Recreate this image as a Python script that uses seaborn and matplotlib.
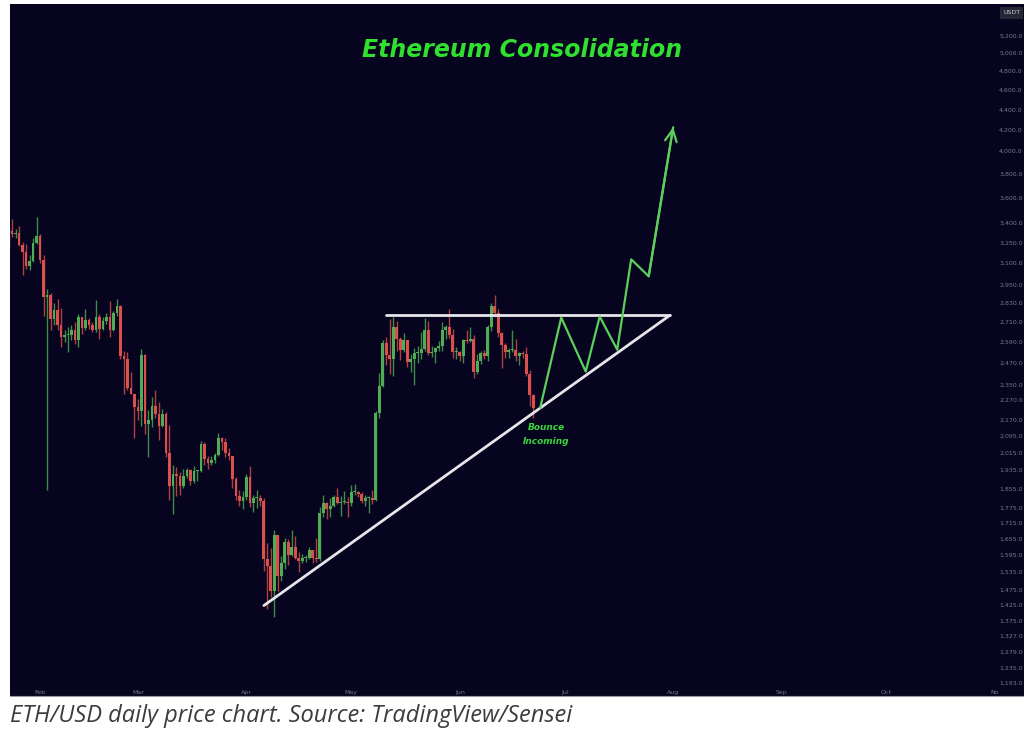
import numpy as np
import pandas as pd
import matplotlib
matplotlib.use("Agg")
import matplotlib.pyplot as plt
import matplotlib.dates as mdates
from matplotlib.ticker import FixedLocator, FuncFormatter, NullLocator
from matplotlib.patches import Rectangle
from matplotlib.lines import Line2D
import seaborn as sns

# ---------------- data ----------------
start_date = "2025-01-23"
first_open = 3330

closes = [
    3338, 3310, 3318, 3232, 3181, 3077, 3114, 3249, 3300,
    3125, 2870, 2880, 2732, 2785, 2690, 2620, 2630, 2630, 2660, 2600, 2740, 2675, 2725,
    2690, 2660, 2745, 2670, 2720, 2740, 2660, 2765, 2815, 2510, 2495, 2335, 2300, 2235,
    2215, 2515, 2150, 2170, 2240, 2200, 2140, 2200, 2010, 1865, 1920, 1910, 1865, 1910,
    1935, 1890, 1930, 1930, 2055, 1985, 1965, 1980, 2005, 2080, 2065, 2010, 2000, 1895,
    1825, 1805, 1820,
    1905, 1795, 1815, 1815, 1805, 1580, 1555, 1470, 1670, 1520, 1565, 1645, 1595, 1625,
    1585, 1575, 1585, 1585, 1615, 1585, 1580, 1755, 1795, 1770, 1785, 1820, 1795, 1800,
    1800, 1795,
    1840, 1840, 1835, 1805, 1815, 1815, 1810, 2205, 2345, 2585, 2515, 2490, 2680, 2610,
    2545, 2600, 2475, 2490, 2525, 2525, 2550, 2665, 2525, 2530, 2555, 2570, 2660, 2680,
    2630, 2530, 2530,
    2510, 2605, 2595, 2610, 2420, 2480, 2525, 2510, 2680, 2810, 2770, 2645, 2575, 2530,
    2545, 2545, 2510, 2525, 2520, 2410, 2295, 2230,
]
highs = [
    3360, 3425, 3350, 3370, 3250, 3240, 3160, 3285, 3440,
    3310, 3160, 2925, 2895, 2830, 2855, 2800, 2665, 2680, 2690, 2710, 2760, 2740, 2790,
    2735, 2710, 2850, 2760, 2745, 2770, 2845, 2780, 2855, 2820, 2540, 2530, 2420, 2300,
    2275, 2550, 2520, 2220, 2285, 2320, 2260, 2225, 2210, 2145, 1960, 1950, 1925, 1940,
    1945, 1940, 1955, 1935, 2070, 2065, 2000, 2000, 2010, 2105, 2085, 2080, 2035, 2000,
    1905, 1850, 1845,
    1920, 1955, 1830, 1850, 1830, 1815, 1640, 1620, 1690, 1670, 1590, 1660, 1655, 1690,
    1665, 1605, 1600, 1595, 1625, 1615, 1660, 1780, 1830, 1800, 1815, 1830, 1860, 1825,
    1845, 1820,
    1870, 1875, 1845, 1840, 1830, 1825, 1850, 2215, 2415, 2600, 2620, 2730, 2740, 2720,
    2620, 2645, 2605, 2520, 2555, 2570, 2650, 2735, 2715, 2570, 2560, 2595, 2710, 2695,
    2790, 2670, 2560,
    2540, 2610, 2660, 2680, 2630, 2520, 2540, 2545, 2690, 2830, 2880, 2790, 2650, 2585,
    2555, 2660, 2610, 2530, 2540, 2560, 2430, 2300,
]
lows = [
    3200, 3290, 3280, 3225, 3020, 3060, 3050, 3110, 3240,
    3100, 2750, 1850, 2660, 2690, 2660, 2560, 2590, 2530, 2600, 2580, 2560, 2640, 2660,
    2670, 2650, 2650, 2610, 2660, 2700, 2620, 2655, 2750, 2490, 2300, 2320, 2300, 2080,
    2170, 2140, 2100, 1995, 2135, 2180, 2075, 2135, 1995, 1810, 1750, 1825, 1830, 1860,
    1900, 1870, 1880, 1890, 1925, 1960, 1940, 1960, 1965, 2000, 2025, 1995, 1980, 1860,
    1810, 1785, 1770,
    1810, 1780, 1760, 1775, 1785, 1540, 1410, 1450, 1385, 1470, 1505, 1545, 1560, 1590,
    1580, 1535, 1565, 1570, 1580, 1565, 1570, 1575, 1740, 1730, 1740, 1780, 1790, 1745,
    1790, 1740,
    1785, 1830, 1820, 1795, 1785, 1755, 1790, 1805, 2180, 2340, 2460, 2410, 2400, 2540,
    2485, 2530, 2450, 2420, 2350, 2470, 2490, 2540, 2515, 2505, 2470, 2540, 2540, 2610,
    2615, 2500, 2490,
    2480, 2470, 2585, 2590, 2385, 2410, 2465, 2490, 2480, 2655, 2740, 2620, 2440, 2500,
    2500, 2535, 2480, 2460, 2500, 2400, 2240, 2180,
]

# triangle (resistance / support) and projected path
resistance_dates = ["2025-05-11", "2025-07-31"]
resistance_prices = [2755, 2755]
support_dates = ["2025-04-06", "2025-07-31"]
support_prices = [1422, 2752]
path_dates = ["2025-06-24", "2025-06-30", "2025-07-07", "2025-07-11",
              "2025-07-16", "2025-07-20", "2025-07-25", "2025-08-01"]
path_prices = [2231, 2739, 2422, 2745, 2546, 3127, 3009, 4224]

price_ticks = [5200, 5000, 4800, 4600, 4400, 4200, 4000, 3800, 3600, 3400,
               3250, 3100, 2950, 2830, 2710, 2590, 2470, 2350, 2270, 2170,
               2095, 2015, 1935, 1855, 1775, 1715, 1655, 1595, 1535, 1475,
               1425, 1375, 1327, 1279, 1235, 1193]

# ---------------- frame ----------------
dates = pd.date_range(start_date, periods=len(closes), freq="D")
opens = [first_open] + closes[:-1]
df = pd.DataFrame({"date": dates, "open": opens, "close": closes,
                   "high": highs, "low": lows})
df["x"] = mdates.date2num(df["date"])
df["up"] = df["close"] >= df["open"]

BG = "#06041e"
UP = "#4fae55"
DN = "#d9504d"
TXT = "#7a7a8a"
W, H = 1024, 736

sns.set_theme(style="dark", rc={"axes.facecolor": BG, "figure.facecolor": "white",
                                 "axes.grid": False})
plt.rcParams["font.family"] = ["DejaVu Sans"]

fig = plt.figure(figsize=(W / 100, H / 100), dpi=100)

# dark panel (behind everything)
fig.patches.append(Rectangle((10 / W, 1 - 696 / H), (W - 10) / W, (696 - 4) / H,
                             transform=fig.transFigure, facecolor=BG,
                             edgecolor="none", zorder=-10))
fig.lines.append(Line2D([10 / W, 1], [1 - 696 / H, 1 - 696 / H],
                        transform=fig.transFigure, color="#9a9aa6", lw=0.8, zorder=-5))

ax = fig.add_axes([10 / W, 1 - 688 / H, 985 / W, 684 / H])
ax.set_zorder(1)
ax.set_facecolor(BG)
for s in ax.spines.values():
    s.set_visible(False)

# candles
for up, col in [(True, UP), (False, DN)]:
    d = df[df["up"] == up]
    ax.vlines(d["x"], d["low"], d["high"], color=col, lw=1.0, alpha=0.8, zorder=2)
    body_lo = np.minimum(d["open"], d["close"])
    body_h = np.maximum(np.abs(d["close"] - d["open"]), d["close"] * 0.003)
    ax.bar(d["x"], body_h, bottom=body_lo, width=0.8, color=col,
           edgecolor="none", zorder=3)

# triangle lines
sns.lineplot(x=mdates.date2num(pd.to_datetime(resistance_dates)), y=resistance_prices,
             ax=ax, color="#e6e6ea", lw=2.0, zorder=4)
sns.lineplot(x=mdates.date2num(pd.to_datetime(support_dates)), y=support_prices,
             ax=ax, color="#e6e6ea", lw=2.0, zorder=4)

# projection path
px = mdates.date2num(pd.to_datetime(path_dates))
sns.lineplot(x=px, y=path_prices, ax=ax, color="#5ccf5c", lw=1.6, sort=False,
             estimator=None, zorder=5)
ax.annotate("", xy=(px[-1], path_prices[-1]), xytext=(px[-2], path_prices[-2]),
            arrowprops=dict(arrowstyle="->,head_length=0.7,head_width=0.35",
                            color="#5ccf5c", lw=1.6, shrinkA=0, shrinkB=0),
            zorder=5)

# scales
ax.set_yscale("log")
ax.set_ylim(1178.6, 5592)
ax.set_xlim(mdates.date2num(pd.Timestamp("2025-01-23")) + 0.42,
            mdates.date2num(pd.Timestamp("2025-11-01")))
ax.yaxis.set_major_locator(FixedLocator(price_ticks))
ax.yaxis.set_minor_locator(NullLocator())
ax.yaxis.set_major_formatter(FuncFormatter(lambda v, p: f"{v:,.1f}"))
ax.yaxis.tick_right()
ax.tick_params(axis="y", length=0, pad=3, labelsize=4.5, labelcolor=TXT)
ax.xaxis.set_major_locator(mdates.MonthLocator(bymonth=range(2, 12)))
ax.xaxis.set_major_formatter(FuncFormatter(
    lambda v, p: "No" if mdates.num2date(v).month == 11 else mdates.num2date(v).strftime("%b")))
ax.tick_params(axis="x", length=0, pad=1.5, labelsize=4.5, labelcolor=TXT)
ax.set_xlabel("")
ax.set_ylabel("")
ax.grid(False)

# texts
fig.text(522 / W, 1 - 50 / H, "Ethereum Consolidation", ha="center", va="center",
         fontsize=17, fontweight="bold", fontstyle="italic", color="#2fe02f")
fig.text(546 / W, 1 - 428 / H, "Bounce", ha="center", va="center", fontsize=6.5,
         fontweight="bold", fontstyle="italic", color="#38d838", zorder=5)
fig.text(546 / W, 1 - 442 / H, "Incoming", ha="center", va="center", fontsize=6.5,
         fontweight="bold", fontstyle="italic", color="#38d838", zorder=5)
fig.text(1003 / W, 1 - 13 / H, "USDT", ha="left", va="center", fontsize=4.5,
         color="#c8c8d0",
         bbox=dict(boxstyle="square,pad=0.5", facecolor="#262636", edgecolor="none"))
fig.text(10 / W, 1 - 716 / H, "ETH/USD daily price chart. Source: TradingView/Sensei",
         ha="left", va="center", fontsize=17, fontstyle="italic", color="#3c3c3c",
         family=["Open Sans", "DejaVu Sans"])

fig.savefig("out.png", dpi=100, facecolor="white")
